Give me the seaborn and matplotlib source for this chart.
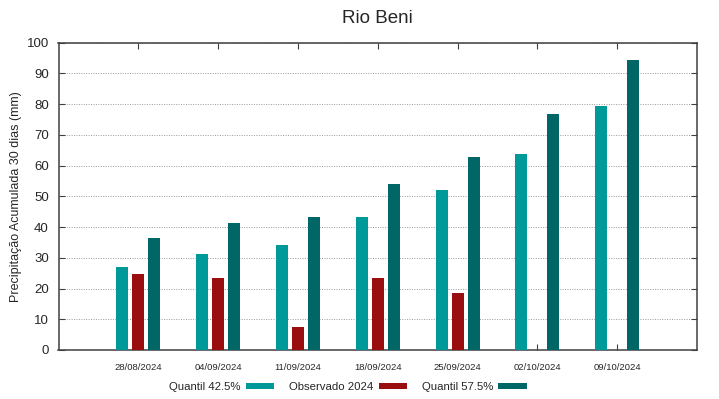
import matplotlib
matplotlib.use("Agg")
import matplotlib.pyplot as plt
from matplotlib.patches import Patch
import numpy as np
import pandas as pd
import seaborn as sns

dates = ["28/08/2024", "04/09/2024", "11/09/2024", "18/09/2024",
         "25/09/2024", "02/10/2024", "09/10/2024"]
q425 = [27.1, 31.2, 34.2, 43.4, 52.1, 63.7, 79.3]
obs2024 = [24.6, 23.3, 7.4, 23.5, 18.5, np.nan, np.nan]
q575 = [36.5, 41.4, 43.4, 54.0, 62.9, 76.7, 94.4]
series_names = ["Quantil 42.5%", "Observado 2024", "Quantil 57.5%"]
colors = ["#009999", "#990f0f", "#006666"]

rows = []
for name, vals in zip(series_names, [q425, obs2024, q575]):
    for d, v in zip(dates, vals):
        rows.append({"date": d, "serie": name, "value": v})
df = pd.DataFrame(rows)

sns.set_style("white")
plt.rcParams["font.family"] = ["Liberation Sans", "DejaVu Sans"]

fig = plt.figure(figsize=(7.19, 3.99), dpi=100)
ax = fig.add_axes([58.5 / 719, 1 - 350 / 399, (697 - 58.5) / 719, (350 - 42.7) / 399])

sns.barplot(data=df, x="date", y="value", hue="serie", order=dates,
            hue_order=series_names, palette=colors, width=0.6, gap=0.25,
            saturation=1, errorbar=None, ax=ax, legend=False, zorder=3,
            linewidth=0, edgecolor="none")

ax.set_xlim(-1, 7)
ax.set_ylim(0, 100)
ax.set_yticks(range(0, 101, 10))
ax.set_xlabel("")
ax.set_ylabel("Precipitação Acumulada 30 dias (mm)", fontsize=9, labelpad=3)
ax.set_title("Rio Beni", fontsize=13.5, pad=14)

ax.yaxis.grid(True, linestyle=(0, (1, 1.5)), color="#999999", linewidth=0.7, zorder=0)
ax.xaxis.grid(False)
ax.set_axisbelow(True)

for s in ax.spines.values():
    s.set_color("#404040")
    s.set_linewidth(1.1)
    s.set_visible(True)

ax.tick_params(axis="y", direction="in", length=4, width=0.8, color="#404040",
               labelsize=9.5, right=True, left=True, pad=7)
ax.tick_params(axis="x", direction="in", length=4, width=0.8, color="#404040",
               labelsize=6.8, top=True, bottom=True, pad=9)

handles = [Patch(facecolor=c, edgecolor="none") for c in colors]
fig.legend(handles, series_names, loc="center", ncol=3,
           bbox_to_anchor=(348 / 719, 1 - 387 / 399), frameon=False,
           fontsize=8.2, markerfirst=False, handlelength=2.5, handleheight=0.55,
           handletextpad=0.45, columnspacing=1.3)

fig.savefig("out.png", dpi=100)
